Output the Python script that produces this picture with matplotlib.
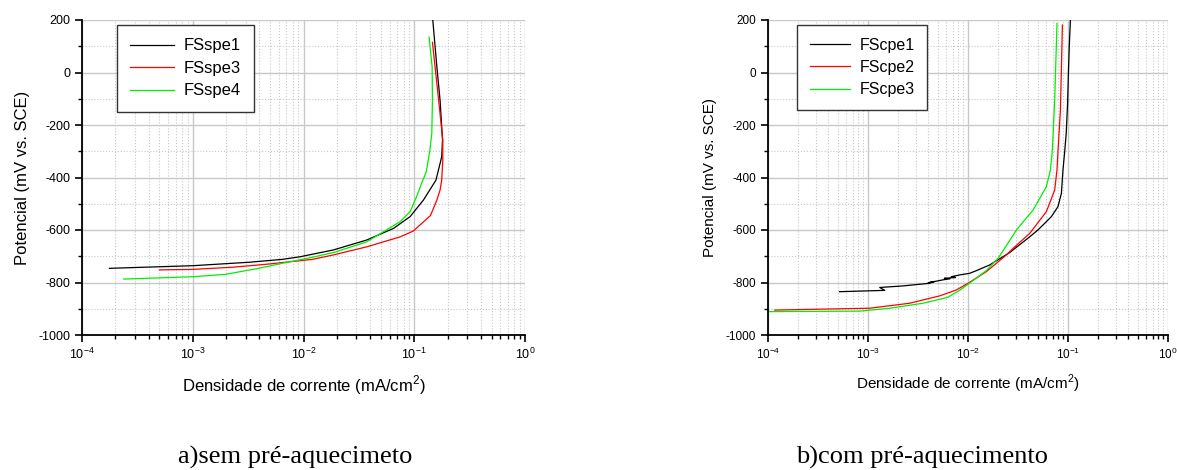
import matplotlib.pyplot as plt
from matplotlib.ticker import LogLocator, MultipleLocator, NullFormatter

plt.rcParams['font.family'] = ['Liberation Sans', 'DejaVu Sans']
plt.rcParams['mathtext.fontset'] = 'custom'
plt.rcParams['mathtext.rm'] = 'Liberation Sans'
plt.rcParams['axes.unicode_minus'] = False

# a) sem pre-aquecimento
spe1_x = [1.77e-4, 1.0e-3, 3.2e-3, 6.4e-3, 9.3e-3, 0.0186, 0.0373, 0.0649, 0.0918, 0.121,
          0.157, 0.177, 0.180, 0.171, 0.160, 0.147]
spe1_y = [-746, -736, -723, -712, -702, -676, -638, -594, -549, -486,
          -410, -321, -257, -105, 22, 200]
spe3_x = [5.0e-4, 1.0e-3, 2.26e-3, 4.5e-3, 0.012, 0.0186, 0.0373, 0.0747, 0.098, 0.140,
          0.160, 0.171, 0.177, 0.181, 0.181, 0.166, 0.146]
spe3_y = [-752, -750, -742, -731, -712, -695, -664, -626, -604, -545,
          -486, -448, -410, -333, -257, -105, 115]
spe4_x = [2.38e-4, 1.0e-3, 1.97e-3, 3.94e-3, 6.4e-3, 0.012, 0.0186, 0.0373, 0.0747, 0.0918,
          0.105, 0.117, 0.128, 0.138, 0.144, 0.146, 0.145, 0.136]
spe4_y = [-787, -778, -769, -746, -727, -704, -686, -645, -568, -530,
          -473, -420, -380, -300, -232, -105, 22, 135]

# b) com pre-aquecimento
cpe1_x = [5.2e-4, 1.47e-3, 1.31e-3, 2.24e-3, 4.14e-3, 4.6e-3, 4.0e-3, 5.6e-3, 6.6e-3, 5.8e-3,
          7.5e-3, 6.8e-3, 8.3e-3, 0.0104, 0.0121, 0.0165, 0.0261, 0.0414, 0.050, 0.0562,
          0.0682, 0.0794, 0.0859, 0.0891, 0.0927, 0.096, 0.099, 0.101, 0.103, 0.1057]
cpe1_y = [-835, -830, -819, -813, -803, -796, -801, -790, -786, -784,
          -781, -778, -771, -765, -755, -733, -686, -626, -600, -581,
          -549, -511, -460, -371, -300, -232, -120, 0, 100, 200]
cpe2_x = [1.17e-4, 1.04e-3, 2.61e-3, 5.2e-3, 7.6e-3, 0.010, 0.0152, 0.0192, 0.0242, 0.0282,
          0.0414, 0.0608, 0.0736, 0.0776, 0.0794, 0.084, 0.0879]
cpe2_y = [-905, -898, -879, -851, -829, -803, -759, -727, -695, -670,
          -613, -530, -448, -371, -300, -143, 181]
cpe3_x = [1.0e-4, 8.3e-4, 1.65e-3, 3.55e-3, 6.3e-3, 8.3e-3, 0.010, 0.0152, 0.0201, 0.0305,
          0.0447, 0.0608, 0.0667, 0.0698, 0.0716, 0.0736, 0.0776]
cpe3_y = [-911, -909, -898, -879, -856, -829, -807, -755, -707, -600,
          -524, -435, -371, -295, -200, -105, 187]

fig = plt.figure(figsize=(11.77, 4.70), dpi=100)
ax1 = fig.add_axes([82 / 1177, 1 - 335 / 470, 443 / 1177, 315 / 470])
ax2 = fig.add_axes([768 / 1177, 1 - 335 / 470, 400 / 1177, 315 / 470])


def style(ax, tick_fs, label_fs):
    ax.set_xscale('log')
    ax.set_xlim(1e-4, 1)
    ax.set_ylim(-1000, 200)
    ax.yaxis.set_major_locator(MultipleLocator(200))
    ax.yaxis.set_minor_locator(MultipleLocator(100))
    ax.xaxis.set_major_locator(LogLocator(base=10, numticks=10))
    ax.xaxis.set_minor_locator(LogLocator(base=10, subs=range(2, 10), numticks=20))
    ax.xaxis.set_minor_formatter(NullFormatter())
    ax.grid(which='major', color='#c8c8c8', lw=1.0, ls='-')
    ax.grid(which='minor', color='#c8c8c8', lw=0.8, ls=':')
    ax.set_axisbelow(True)
    for s in ['top', 'right']:
        ax.spines[s].set_visible(False)
    for s in ['left', 'bottom']:
        ax.spines[s].set_linewidth(1.3)
    ax.tick_params(which='major', direction='out', length=5, width=1.2, labelsize=tick_fs)
    ax.tick_params(which='minor', direction='out', length=3, width=1.0)
    ax.set_xlabel('Densidade de corrente (mA/cm$^2$)', fontsize=label_fs, labelpad=8)
    ax.set_ylabel('Potencial (mV vs. SCE)', fontsize=label_fs, labelpad=6)


ax1.plot(spe1_x, spe1_y, color='black', lw=0.9, label='FSspe1')
ax1.plot(spe3_x, spe3_y, color='#ff0000', lw=0.9, label='FSspe3')
ax1.plot(spe4_x, spe4_y, color='#00ee00', lw=0.9, label='FSspe4')
style(ax1, 9, 12)

ax2.plot(cpe1_x, cpe1_y, color='black', lw=0.9, label='FScpe1')
ax2.plot(cpe2_x, cpe2_y, color='#ff0000', lw=0.9, label='FScpe2')
ax2.plot(cpe3_x, cpe3_y, color='#00ee00', lw=0.9, label='FScpe3')
style(ax2, 8.5, 11)

for ax, x0, fs, hl in [(ax1, 117, 12, 2.6), (ax2, 797, 11.5, 2.5)]:
    leg = ax.legend(loc='upper left', bbox_to_anchor=(x0 / 1177, 1 - 25 / 470),
                    bbox_transform=fig.transFigure, borderaxespad=0, fontsize=fs,
                    handlelength=hl, labelspacing=0.45, fancybox=False, framealpha=1,
                    edgecolor='#333333', borderpad=0.8, handletextpad=0.6)
    leg.get_frame().set_linewidth(1.0)

fig.text(295 / 1177, 1 - 457 / 470, 'a)sem pré-aquecimeto', ha='center', va='center',
         fontsize=19, family='Liberation Serif')
fig.text(922 / 1177, 1 - 457 / 470, 'b)com pré-aquecimento', ha='center', va='center',
         fontsize=19, family='Liberation Serif')

fig.savefig('out.png', dpi=100)
